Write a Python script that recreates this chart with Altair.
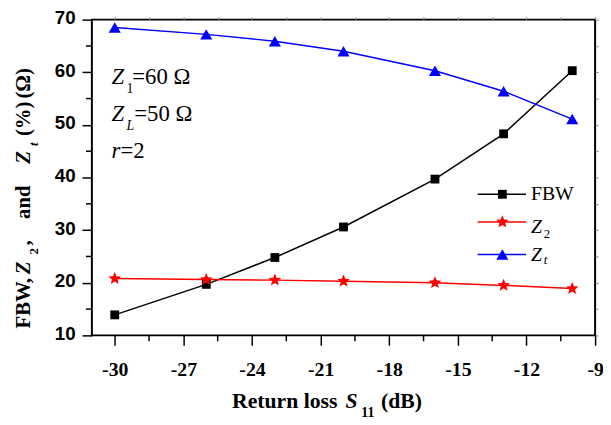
import altair as alt
import pandas as pd

# ---- data ----
return_loss_db = [-30, -26, -23, -20, -16, -13, -10]
fbw_values = [13.9, 19.7, 24.8, 30.6, 39.7, 48.3, 60.3]
z2_values = [20.8, 20.6, 20.5, 20.3, 20.0, 19.5, 18.9]
zt_values = [68.5, 67.2, 65.9, 64.0, 60.3, 56.4, 51.1]

series_names = ["FBW", "Z2", "Zt"]
series_colors = ["#000000", "#ff0000", "#0000ff"]
STAR = ("M0,-1L0.265,-0.364L0.951,-0.309L0.428,0.139L0.588,0.809L0,0.45"
        "L-0.588,0.809L-0.428,0.139L-0.951,-0.309L-0.265,-0.364Z")
series_shapes = ["square", STAR, "triangle-up"]
series_sizes = [80, 180, 150]

x_major_ticks = [-30, -27, -24, -21, -18, -15, -12, -9]
x_minor_ticks = [-28.5, -25.5, -22.5, -19.5, -16.5, -13.5, -10.5]
y_major_ticks = [10, 20, 30, 40, 50, 60, 70]
y_minor_ticks = [15, 25, 35, 45, 55, 65]

W, H = 510, 320
SERIF = "Liberation Serif, Times New Roman, Times, serif"
SANS = "Liberation Sans, Arial, Helvetica, sans-serif"

rows = []
for name, vals in zip(series_names, [fbw_values, z2_values, zt_values]):
    for xv, yv in zip(return_loss_db, vals):
        rows.append({"series": name, "x": xv, "y": yv})
df = pd.DataFrame(rows)

xscale = alt.Scale(domain=[-31, -9], nice=False, zero=False)
yscale = alt.Scale(domain=[10, 70], nice=False, zero=False)
color = alt.Color("series:N", scale=alt.Scale(domain=series_names, range=series_colors), legend=None)

x_axis_main = alt.Axis(
    orient="bottom", values=x_major_ticks, title=None, grid=False, domain=False,
    labelExpr="'' + datum.value", tickSize=10, tickColor="black", tickWidth=1.5,
    labelFont=SERIF, labelFontWeight="bold", labelFontSize=20,
    labelColor="black", labelPadding=15, labelFlush=False, labelOverlap=False)
y_axis_main = alt.Axis(
    orient="left", values=y_major_ticks, title=None, grid=False, domain=False,
    labelExpr="'' + datum.value", tickSize=10, tickColor="black", tickWidth=1.5,
    labelFont=SANS, labelFontWeight="bold", labelFontSize=19,
    labelColor="black", labelPadding=7, labelOffset=-2, labelFlush=False, labelOverlap=False)
x_axis_top = alt.Axis(orient="top", values=x_major_ticks + x_minor_ticks, title=None, grid=False,
                      domain=False, labels=False, tickSize=3, tickColor="#888", tickWidth=1)
y_axis_right = alt.Axis(orient="right", values=y_major_ticks + y_minor_ticks, title=None, grid=False,
                        domain=False, labels=False, tickSize=3, tickColor="#888", tickWidth=1)

base = alt.Chart(df)
axes_main = base.mark_point(opacity=0).encode(
    x=alt.X("x:Q", scale=xscale, axis=x_axis_main),
    y=alt.Y("y:Q", scale=yscale, axis=y_axis_main))
axes_mirror = base.mark_point(opacity=0).encode(
    x=alt.X("x:Q", scale=xscale, axis=x_axis_top),
    y=alt.Y("y:Q", scale=yscale, axis=y_axis_right))

# minor (shorter) outward ticks
x_minor = alt.Chart(pd.DataFrame({"v": x_minor_ticks})).mark_rule(
    color="black", strokeWidth=1.5).encode(
    x=alt.X("v:Q", scale=xscale, axis=None), y=alt.value(H), y2=alt.value(H + 6))
y_minor = alt.Chart(pd.DataFrame({"v": y_minor_ticks})).mark_rule(
    color="black", strokeWidth=1.5).encode(
    y=alt.Y("v:Q", scale=yscale, axis=None), x=alt.value(0), x2=alt.value(-6))

lines = base.mark_line(strokeWidth=1.5).encode(
    x=alt.X("x:Q", scale=xscale, axis=None),
    y=alt.Y("y:Q", scale=yscale, axis=None),
    color=color)

point_layers = []
for name, col, shp, sz in zip(series_names, series_colors, series_shapes, series_sizes):
    point_layers.append(
        base.transform_filter(alt.datum.series == name)
        .mark_point(filled=True, opacity=1, shape=shp, size=sz, color=col)
        .encode(x=alt.X("x:Q", scale=xscale, axis=None),
                y=alt.Y("y:Q", scale=yscale, axis=None)))

# ---- manual legend (pixel positions inside the plot) ----
legend_rows_py = [177, 205, 238]
legend_df = pd.DataFrame({"series": series_names, "ly": legend_rows_py})
legend_lines = alt.Chart(legend_df).mark_rule(strokeWidth=1.5).encode(
    x=alt.value(391), x2=alt.value(440),
    y=alt.Y("ly:Q", scale=None, axis=None), color=color)
legend_points = []
for name, col, shp, sz in zip(series_names, series_colors, series_shapes, series_sizes):
    legend_points.append(
        alt.Chart(legend_df).transform_filter(alt.datum.series == name)
        .mark_point(filled=True, opacity=1, shape=shp, size=sz, color=col)
        .encode(x=alt.value(416), y=alt.Y("ly:Q", scale=None, axis=None)))


def texts(rows_, size, weight="normal", style="normal", angle=0, font=SERIF):
    d = pd.DataFrame(rows_, columns=["t", "px", "py"])
    return alt.Chart(d).mark_text(
        font=font, fontSize=size, fontWeight=weight, fontStyle=style, angle=angle,
        align="left", baseline="alphabetic", color="black").encode(
        x=alt.X("px:Q", scale=None, axis=None),
        y=alt.Y("py:Q", scale=None, axis=None),
        text="t:N")


text_layers = [
    # legend labels
    texts([["FBW", 445, 183]], 20),
    texts([["Z", 445, 216], ["Z", 445, 245]], 20, style="italic"),
    texts([["2", 458, 221]], 13),
    texts([["t", 458, 248]], 13, style="italic"),
    # annotations
    texts([["Z", 20, 65], ["Z", 20, 103], ["r", 20, 140]], 23, style="italic"),
    texts([["1", 35, 74]], 14),
    texts([["L", 35, 112]], 14, style="italic"),
    texts([["=60 Ω", 41, 65], ["=50 Ω", 43, 103], ["=2", 29, 140]], 23),
    # x axis title
    texts([["Return loss", 142, 394], ["(dB)", 293, 394]], 22, weight="bold"),
    texts([["S", 257, 394]], 22, weight="bold", style="italic"),
    texts([["11", 273, 403]], 14, weight="bold"),
    # y axis title (rotated)
    texts([["FBW,", -63, 313], [",", -63, 229], ["and", -63, 202],
           ["(%)", -63, 118], ["(Ω)", -63, 80]], 21, weight="bold", angle=270),
    texts([["Z", -63, 258], ["Z", -63, 146]], 21, weight="bold", style="italic", angle=270),
    texts([["2", -55, 238]], 13, weight="bold", angle=270),
    texts([["t", -55, 128]], 13, weight="bold", style="italic", angle=270),
]

chart = alt.layer(
    axes_main, axes_mirror, x_minor, y_minor, lines, *point_layers,
    legend_lines, *legend_points, *text_layers
).resolve_axis(x="independent", y="independent").properties(
    width=W, height=H,
    autosize=alt.AutoSizeParams(type="none"),
    padding={"left": 85, "top": 9, "right": 8, "bottom": 86},
).configure_view(stroke="black", strokeWidth=2)

chart.save("out.html", embed_options={"renderer": "svg", "actions": False})
